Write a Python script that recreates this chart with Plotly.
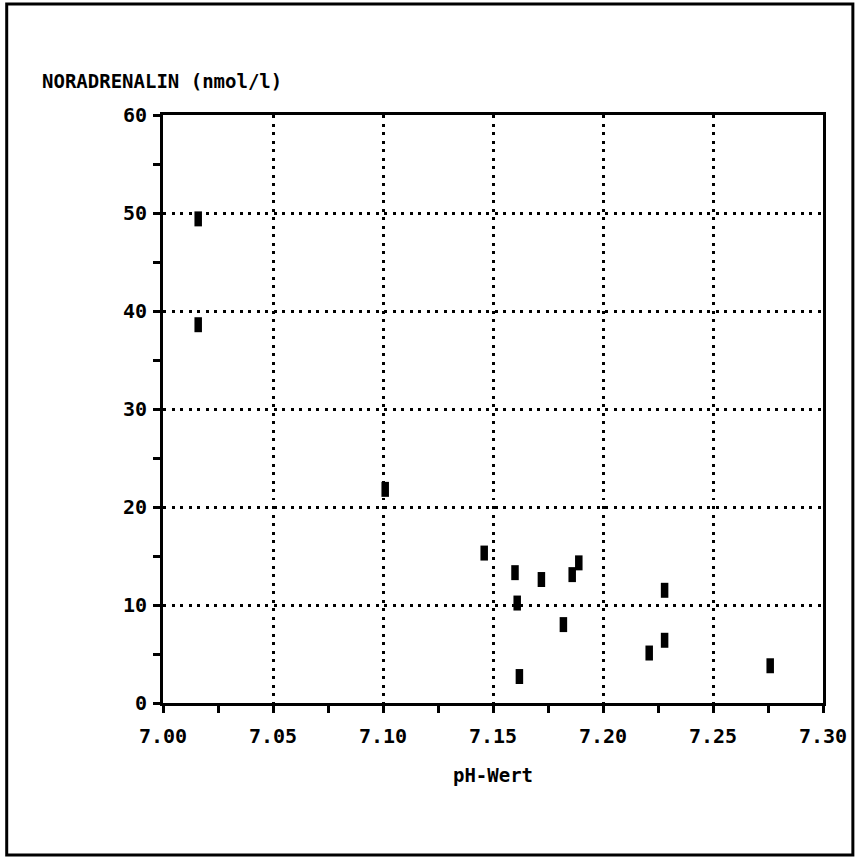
import plotly.graph_objects as go

# pH value vs. noradrenaline concentration
ph_values = [7.016, 7.016, 7.101, 7.146, 7.160, 7.161, 7.162, 7.172,
             7.182, 7.186, 7.189, 7.221, 7.228, 7.228, 7.276]
noradrenalin = [49.4, 38.6, 21.8, 15.3, 13.3, 10.2, 2.7, 12.6,
                8.0, 13.1, 14.3, 5.1, 6.4, 11.5, 3.8]

x_ticks = [7.00, 7.05, 7.10, 7.15, 7.20, 7.25, 7.30]
x_tick_labels = ["7.00", "7.05", "7.10", "7.15", "7.20", "7.25", "7.30"]
y_ticks = [0, 10, 20, 30, 40, 50, 60]

FONT = "DejaVu Sans Mono"
W, H = 859, 858
L, R, T, B = 163, 33, 115, 155

fig = go.Figure()
fig.add_trace(go.Scatter(
    x=ph_values, y=noradrenalin, mode="markers",
    marker=dict(symbol="line-ns-open", size=10.7, color="black",
                line=dict(color="black", width=7.5)),
    showlegend=False, hoverinfo="x+y",
))

axis_common = dict(
    showline=True, linecolor="black", linewidth=3, mirror=True,
    ticks="outside", ticklen=7, tickwidth=2.5, tickcolor="black",
    showgrid=True, gridcolor="black", gridwidth=2.8, griddash="3px,5.5px",
    zeroline=False,
    tickfont=dict(family=FONT, size=20, color="black", weight="bold"),
)

fig.update_xaxes(
    range=[7.0, 7.30], tickvals=x_ticks, ticktext=x_tick_labels,
    ticklabelstandoff=6,
    minor=dict(dtick=0.025, tick0=7.0, ticks="outside", ticklen=7,
               tickwidth=2.5, tickcolor="black", showgrid=False),
    title=dict(text="pH-Wert", standoff=22,
               font=dict(family=FONT, size=19, color="black", weight="bold")),
    **axis_common,
)
fig.update_yaxes(
    range=[0, 60], tickvals=y_ticks, ticklabelstandoff=2,
    minor=dict(dtick=5, tick0=0, ticks="outside", ticklen=7,
               tickwidth=2.5, tickcolor="black", showgrid=False),
    **axis_common,
)

# y-axis label placed horizontally above the plot
fig.add_annotation(
    text="NORADRENALIN (nmol/l)", xref="paper", yref="paper",
    x=(39 - L) / (W - L - R), y=(H - B - 81) / (H - T - B),
    xanchor="left", yanchor="middle", showarrow=False,
    font=dict(family=FONT, size=19, color="black", weight="bold"),
)

# outer frame around the whole figure
pw, ph = W - L - R, H - T - B
fig.add_shape(
    type="rect", xref="paper", yref="paper",
    x0=(6 - L) / pw, x1=(856 - L) / pw,
    y0=(H - B - 855) / ph, y1=(H - B - 4) / ph,
    line=dict(color="black", width=3), layer="below",
)

fig.update_layout(
    width=W, height=H,
    margin=dict(l=L, r=R, t=T, b=B),
    paper_bgcolor="white", plot_bgcolor="white",
    font=dict(family=FONT, color="black"),
)

fig.write_html("out.html")
